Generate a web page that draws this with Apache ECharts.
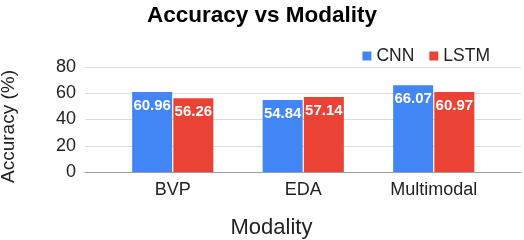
<!DOCTYPE html>
<html>
<head>
<meta charset="utf-8">
<script src="https://cdn.jsdelivr.net/npm/echarts@6/dist/echarts.min.js"></script>
<style>html,body{margin:0;padding:0;background:#fff}#c{width:524px;height:240px}</style>
</head>
<body>
<div id="c"></div>
<script>
const categories = ['BVP', 'EDA', 'Multimodal'];
const cnnValues = [60.96, 54.84, 66.07];
const lstmValues = [56.26, 57.14, 60.97];
const yTicks = [0, 20, 40, 60, 80];

const chart = echarts.init(document.getElementById('c'), null, {renderer: 'canvas'});
const FONT = 'Liberation Sans, Arial, sans-serif';
const yMin = yTicks[0], yMax = yTicks[yTicks.length - 1], yStep = yTicks[1] - yTicks[0];

chart.setOption({
  animation: false,
  backgroundColor: '#fff',
  textStyle: {fontFamily: FONT},
  title: {
    text: 'Accuracy vs Modality',
    left: 'center', top: -1,
    textStyle: {fontFamily: FONT, fontSize: 22.5, fontWeight: 'bold', color: '#000'}
  },
  legend: {
    data: ['CNN', 'LSTM'],
    right: 29, top: 42,
    icon: 'rect', itemWidth: 9, itemHeight: 9, itemGap: 15,
    textStyle: {fontFamily: FONT, fontSize: 17.5, color: '#222'}
  },
  graphic: [
    {type: 'text', x: 271.5, y: 228, style: {text: 'Modality', font: '22px ' + FONT, fill: '#222', align: 'center', verticalAlign: 'middle'}},
    {type: 'text', x: 8.5, y: 126.5, rotation: Math.PI / 2, style: {text: 'Accuracy (%)', font: '19px ' + FONT, fill: '#222', align: 'center', verticalAlign: 'middle'}}
  ],
  grid: [
    {left: 85, right: 3, top: 67, bottom: 68},
    {left: 107.5, right: 25, top: 67, bottom: 68}
  ],
  xAxis: [
    {gridIndex: 0, type: 'value', min: 0, max: 1, axisLine: {show: true, onZero: false, lineStyle: {color: '#9e9e9e', width: 1}}, axisTick: {show: false}, axisLabel: {show: false}, splitLine: {show: false}},
    {gridIndex: 1, type: 'category', data: categories, axisLine: {show: false}, axisTick: {show: false},
     axisLabel: {fontFamily: FONT, fontSize: 18, color: '#222', margin: 9}}
  ],
  yAxis: [
    {gridIndex: 0, type: 'value', min: yMin, max: yMax, interval: yStep,
     axisLine: {show: false}, axisTick: {show: false},
     axisLabel: {fontFamily: FONT, fontSize: 18, color: '#222', margin: 9},
     splitLine: {lineStyle: {color: '#dcdcdc', width: 1}}},
    {gridIndex: 1, type: 'value', min: yMin, max: yMax, interval: yStep, show: false, splitLine: {show: false}}
  ],
  series: [
    {name: 'CNN', type: 'bar', xAxisIndex: 1, yAxisIndex: 1, data: cnnValues, barWidth: 40, barGap: '3%',
     itemStyle: {color: '#4285f4'},
     label: {show: true, position: 'insideTop', distance: 6, color: '#fff', fontFamily: FONT, fontSize: 15, fontWeight: 'bold'}},
    {name: 'LSTM', type: 'bar', xAxisIndex: 1, yAxisIndex: 1, data: lstmValues, barWidth: 40, barGap: '3%',
     itemStyle: {color: '#ea4335'},
     label: {show: true, position: 'insideTop', distance: 6, color: '#fff', fontFamily: FONT, fontSize: 15, fontWeight: 'bold'}}
  ]
});
</script>
</body>
</html>
